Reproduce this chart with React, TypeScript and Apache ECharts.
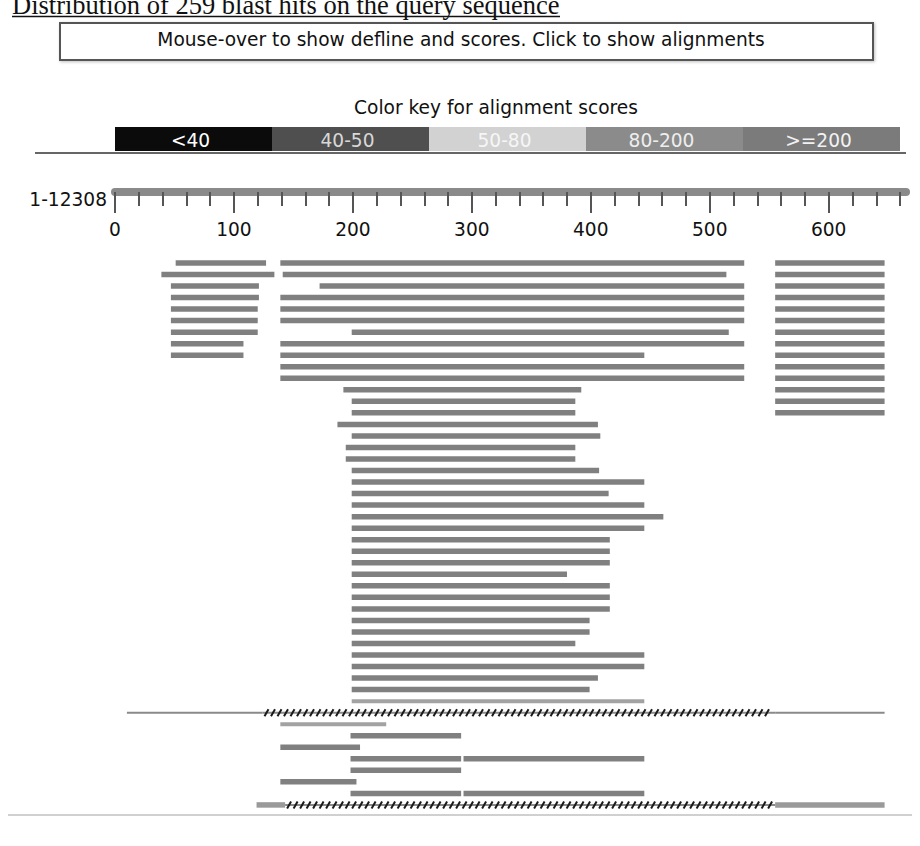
import React, { useEffect, useRef } from 'react';
import * as echarts from 'echarts';

const titleText = 'Distribution of 259 blast hits on the query sequence';
const hintText = 'Mouse-over to show defline and scores. Click to show alignments';
const keyTitle = 'Color key for alignment scores';
const scoreClasses = ['<40', '40-50', '50-80', '80-200', '>=200'];
const queryLabel = '1-12308';
const queryMax = 665;
const majorTicks = [0, 100, 200, 300, 400, 500, 600];
const minorTicks = [20, 40, 60, 80, 120, 140, 160, 180, 220, 240, 260, 280, 320, 340, 360, 380, 420, 440, 460, 480, 520, 540, 560, 580, 620, 640, 660];

// hits: [row, start, end]
const leftHits = [
  [0, 51, 127], [1, 39, 134], [2, 47, 121], [3, 47, 121], [4, 47, 120],
  [5, 47, 120], [6, 47, 120], [7, 47, 108], [8, 47, 108],
];
const centralHits = [
  [0, 139, 529], [1, 141, 514], [2, 172, 529], [3, 139, 529], [4, 139, 529],
  [5, 139, 529], [6, 199, 516], [7, 139, 529], [8, 139, 445], [9, 139, 529],
  [10, 139, 529], [11, 192, 392], [12, 199, 387], [13, 199, 387], [14, 187, 406],
  [15, 199, 408], [16, 194, 387], [17, 194, 387], [18, 199, 407], [19, 199, 445],
  [20, 199, 415], [21, 199, 445], [22, 199, 461], [23, 199, 445], [24, 199, 416],
  [25, 199, 416], [26, 199, 416], [27, 199, 380], [28, 199, 416], [29, 199, 416],
  [30, 199, 416], [31, 199, 399], [32, 199, 399], [33, 199, 387], [34, 199, 445],
  [35, 199, 445], [36, 199, 406], [37, 199, 399],
  [41, 198, 291], [42, 139, 206], [43, 198, 291], [43, 293, 445], [44, 198, 291],
  [45, 139, 203], [46, 198, 291], [46, 293, 445],
];
const rightHits = [
  [0, 555, 647], [1, 555, 647], [2, 555, 647], [3, 555, 647], [4, 555, 647],
  [5, 555, 647], [6, 555, 647], [7, 555, 647], [8, 555, 647], [9, 555, 647],
  [10, 555, 647], [11, 555, 647], [12, 555, 647], [13, 555, 647],
];
const weakHits = [[38, 199, 445], [40, 139, 228]];
const linkLines = [[39, 10, 124], [39, 555, 647]];
const linkSolids = [[47, 119, 143], [47, 555, 647]];
const gapSpans = [[39, 124, 555], [47, 143, 555]];

const rowCount = 48;

const keyColors = ['#0b0b0b', '#4f4f4f', '#d2d2d2', '#8b8b8b', '#7b7b7b'];
const keyTextColors = ['#ffffff', '#d8d8d8', '#f6f6f6', '#eeeeee', '#f2f2f2'];
const FONT = '"DejaVu Sans", sans-serif';
const FS = 18.6;

export default function App() {
  const ref = useRef<HTMLDivElement>(null);
  useEffect(() => {
    if (!ref.current) return;
    const chart = echarts.init(ref.current, undefined, { renderer: 'svg' });

    const data: any[] = [];
    const push = (arr: number[][], kind: number) => arr.forEach((d) => data.push([d[0], d[1], d[2], kind]));
    push(leftHits, 0);
    push(centralHits, 0);
    push(rightHits, 0);
    push(weakHits, 1);
    push(linkLines, 2);
    push(linkSolids, 3);
    push(gapSpans, 4);

    const keyX0 = 115;
    const keyW = 157;
    const graphics: any[] = [
      {
        type: 'text', x: 12, y: 5,
        style: { text: titleText, fontSize: 26.5, fontFamily: '"Liberation Serif", serif', fill: '#111', textAlign: 'left', textVerticalAlign: 'middle' },
      },
      { type: 'line', shape: { x1: 12, y1: 16.5, x2: 560, y2: 16.5 }, style: { stroke: '#111', lineWidth: 1.5 } },
      {
        type: 'rect', shape: { x: 60, y: 23, width: 813, height: 37 },
        style: { fill: '#fff', stroke: '#555', lineWidth: 2, shadowBlur: 3, shadowColor: 'rgba(0,0,0,0.25)', shadowOffsetX: 1, shadowOffsetY: 1 },
      },
      {
        type: 'text', x: 461, y: 39,
        style: { text: hintText, fontSize: FS, fontFamily: FONT, fill: '#111', textAlign: 'center', textVerticalAlign: 'middle' },
      },
      {
        type: 'text', x: 496, y: 107,
        style: { text: keyTitle, fontSize: FS, fontFamily: FONT, fill: '#111', textAlign: 'center', textVerticalAlign: 'middle' },
      },
      ...scoreClasses.map((s, i) => ({
        type: 'rect', shape: { x: keyX0 + i * keyW, y: 127, width: keyW, height: 24 },
        style: { fill: keyColors[i] },
      })),
      ...scoreClasses.map((s, i) => ({
        type: 'text', x: keyX0 + i * keyW + keyW / 2 - 3, y: 140,
        style: { text: s, fontSize: FS, fontFamily: FONT, fill: keyTextColors[i], textAlign: 'center', textVerticalAlign: 'middle' },
      })),
      { type: 'line', shape: { x1: 35, y1: 153, x2: 906, y2: 153 }, style: { stroke: '#666', lineWidth: 2 } },
      {
        type: 'text', x: 107, y: 199,
        style: { text: queryLabel, fontSize: FS, fontFamily: FONT, fill: '#111', textAlign: 'right', textVerticalAlign: 'middle' },
      },
      { type: 'line', shape: { x1: 8, y1: 815, x2: 912, y2: 815 }, style: { stroke: '#d0d0d0', lineWidth: 2 } },
    ];

    const option: any = {
      animation: false,
      backgroundColor: '#fff',
      grid: [
        { left: 115, right: 14, top: 257.2, height: 553.5 },
        { left: 115, right: 14, top: 100, height: 92 },
      ],
      xAxis: [
        { gridIndex: 0, type: 'value', min: 0, max: queryMax, show: false },
        {
          gridIndex: 1, type: 'value', min: 0, max: queryMax, position: 'bottom',
          axisLine: { show: true, lineStyle: { color: '#8a8a8a', width: 8 } },
          axisTick: { show: true, customValues: minorTicks, length: 14, lineStyle: { color: '#555', width: 2 } },
          axisLabel: { show: true, customValues: majorTicks, margin: 28, fontSize: FS, fontFamily: FONT, color: '#111' },
          splitLine: { show: false },
        },
        {
          gridIndex: 1, type: 'value', min: 0, max: queryMax, position: 'bottom',
          axisLine: { show: false },
          axisTick: { show: true, customValues: majorTicks, length: 21, lineStyle: { color: '#555', width: 2 } },
          axisLabel: { show: false },
          splitLine: { show: false },
        },
      ],
      yAxis: [
        { gridIndex: 0, type: 'value', min: -0.5, max: rowCount - 0.5, inverse: true, show: false },
        { gridIndex: 1, type: 'value', show: false },
      ],
      graphic: graphics,
      series: [
        {
          type: 'custom',
          xAxisIndex: 0,
          yAxisIndex: 0,
          data,
          encode: { x: [1, 2], y: 0 },
          renderItem: (params: any, api: any) => {
            const row = api.value(0);
            const s = api.value(1);
            const e = api.value(2);
            const k = api.value(3);
            const p1 = api.coord([s, row]);
            const p2 = api.coord([e, row]);
            const y = p1[1];
            if (k === 4) {
              const children: any[] = [
                { type: 'line', shape: { x1: p1[0], y1: y, x2: p2[0], y2: y }, style: { stroke: '#8a8a8a', lineWidth: 2 } },
              ];
              for (let x = p1[0] + 4; x < p2[0] - 2; x += 6.5) {
                children.push({
                  type: 'line',
                  shape: { x1: x - 2, y1: y + 3.5, x2: x + 2, y2: y - 3.5 },
                  style: { stroke: '#1a1a1a', lineWidth: 2 },
                });
              }
              return { type: 'group', children };
            }
            if (k === 2) {
              return { type: 'line', shape: { x1: p1[0], y1: y, x2: p2[0], y2: y }, style: { stroke: '#8a8a8a', lineWidth: 2 } };
            }
            const h = k === 1 ? 4 : 5.5;
            const fill = k === 1 ? '#a2a2a2' : k === 3 ? '#9a9a9a' : '#808080';
            return {
              type: 'rect',
              shape: { x: p1[0], y: y - h / 2, width: p2[0] - p1[0], height: h },
              style: { fill },
            };
          },
        },
      ],
    };
    chart.setOption(option);
    return () => chart.dispose();
  }, []);
  return <div ref={ref} style={{ position: 'absolute', left: 0, top: 0, width: 920, height: 846 }} />;
}
